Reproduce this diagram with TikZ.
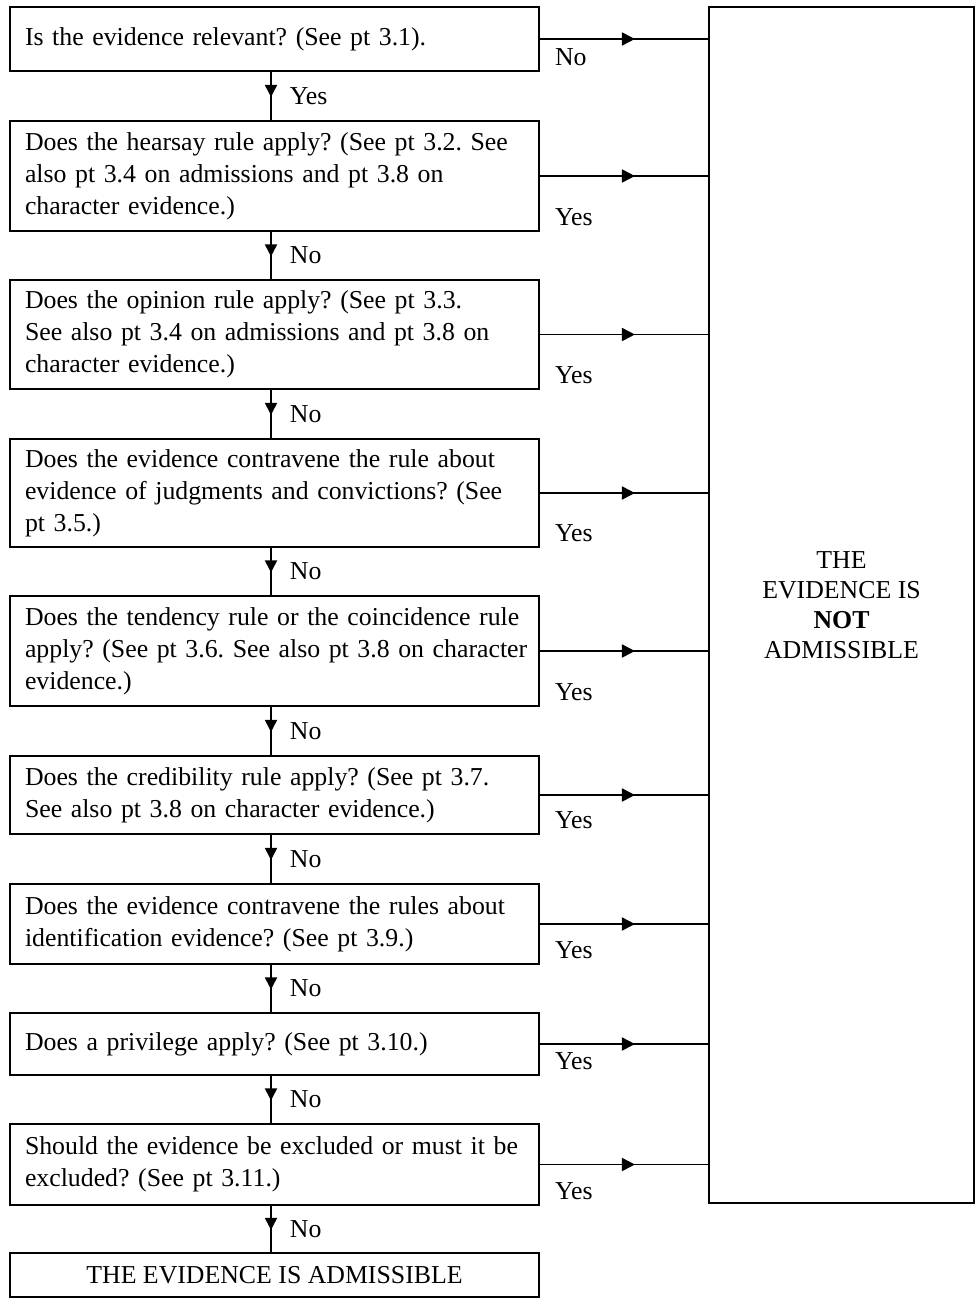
\documentclass[tikz,border=0pt]{standalone}
\usepackage{fontspec}
\setmainfont{Liberation Serif}
\usetikzlibrary{arrows.meta,decorations.markings}
\frenchspacing
\hyphenpenalty=10000
\begin{document}
\begin{tikzpicture}[x=1pt,y=-1pt,
  txt/.style={font=\fontsize{25.8}{32}\selectfont},
  box/.style={txt,draw,line width=1.8pt,rectangle,minimum width=529pt,
    text width=499pt,align=left,inner sep=0pt},
  bigbox/.style={draw,line width=1.8pt,rectangle,minimum width=265pt,
    minimum height=1196pt,align=center,inner sep=0pt,font=\fontsize{25.8}{30}\selectfont},
  endbox/.style={txt,draw,line width=1.8pt,rectangle,minimum width=529pt,
    minimum height=44pt,align=center,inner sep=0pt},
  lbl/.style={txt,inner sep=0pt},
  downarrow/.style={line width=1.8pt,decoration={markings,
    mark=at position 0.52 with {\arrow{Triangle[length=12pt,width=12pt]}}},postaction={decorate}},
  rightarrow/.style={line width=1.8pt,decoration={markings,
    mark=at position 0.565 with {\arrow{Triangle[length=13pt,width=13pt]}}},postaction={decorate}}
]
\useasboundingbox (0,0) rectangle (976,1303);

\node[box,minimum height=64pt]  (b1) at (274.5,39) {Is the evidence relevant? (See pt 3.1).};
\node[box,minimum height=110pt] (b2) at (274.5,176) {\mbox{Does the hearsay rule apply? (See pt 3.2. See}\\also pt 3.4 on admissions and pt 3.8 on\\character evidence.)};
\node[box,minimum height=109pt] (b3) at (274.5,334.5) {Does the opinion rule apply? (See pt 3.3.\\\mbox{See also pt 3.4 on admissions and pt 3.8 on}\\character evidence.)};
\node[box,minimum height=108pt] (b4) at (274.5,493) {Does the evidence contravene the rule about\\\mbox{evidence of judgments and convictions? (See}\\pt 3.5.)};
\node[box,minimum height=110pt] (b5) at (274.5,651) {\mbox{Does the tendency rule or the coincidence rule}\\\mbox{apply? (See pt 3.6. See also pt 3.8 on character}\\evidence.)};
\node[box,minimum height=78pt]  (b6) at (274.5,795) {Does the credibility rule apply? (See pt 3.7.\\See also pt 3.8 on character evidence.)};
\node[box,minimum height=80pt]  (b7) at (274.5,924) {\mbox{Does the evidence contravene the rules about}\\identification evidence? (See pt 3.9.)};
\node[box,minimum height=62pt]  (b8) at (274.5,1044) {Does a privilege apply? (See pt 3.10.)};
\node[box,minimum height=81pt]  (b9) at (274.5,1164.5) {\mbox{Should the evidence be excluded or must it be}\\excluded? (See pt 3.11.)};
\node[endbox] (b10) at (274.5,1275) {THE EVIDENCE IS ADMISSIBLE};

\node[bigbox] (big) at (841.5,605) {THE\\EVIDENCE IS\\\textbf{NOT}\\ADMISSIBLE};

% vertical connectors
\draw[downarrow] ([xshift=-3.5pt]b1.south) -- node[lbl,anchor=west,xshift=18pt,pos=0.5]{Yes} ([xshift=-3.5pt]b2.north);
\draw[downarrow] ([xshift=-3.5pt]b2.south) -- node[lbl,anchor=west,xshift=18pt,pos=0.5]{No} ([xshift=-3.5pt]b3.north);
\draw[downarrow] ([xshift=-3.5pt]b3.south) -- node[lbl,anchor=west,xshift=18pt,pos=0.5]{No} ([xshift=-3.5pt]b4.north);
\draw[downarrow] ([xshift=-3.5pt]b4.south) -- node[lbl,anchor=west,xshift=18pt,pos=0.5]{No} ([xshift=-3.5pt]b5.north);
\draw[downarrow] ([xshift=-3.5pt]b5.south) -- node[lbl,anchor=west,xshift=18pt,pos=0.5]{No} ([xshift=-3.5pt]b6.north);
\draw[downarrow] ([xshift=-3.5pt]b6.south) -- node[lbl,anchor=west,xshift=18pt,pos=0.5]{No} ([xshift=-3.5pt]b7.north);
\draw[downarrow] ([xshift=-3.5pt]b7.south) -- node[lbl,anchor=west,xshift=18pt,pos=0.5]{No} ([xshift=-3.5pt]b8.north);
\draw[downarrow] ([xshift=-3.5pt]b8.south) -- node[lbl,anchor=west,xshift=18pt,pos=0.5]{No} ([xshift=-3.5pt]b9.north);
\draw[downarrow] ([xshift=-3.5pt]b9.south) -- node[lbl,anchor=west,xshift=18pt,pos=0.5]{No} ([xshift=-3.5pt]b10.north);

% horizontal connectors
\foreach \b/\t in {b1/No,b2/Yes,b3/Yes,b4/Yes,b5/Yes,b6/Yes,b7/Yes,b8/Yes,b9/Yes}{
  \draw[rightarrow] (\b.east) -- (big.west |- \b.east);
  \node[lbl,anchor=west] at ([xshift=15pt,yshift=15pt]\b.south east) {\t};
}
\end{tikzpicture}
\end{document}
